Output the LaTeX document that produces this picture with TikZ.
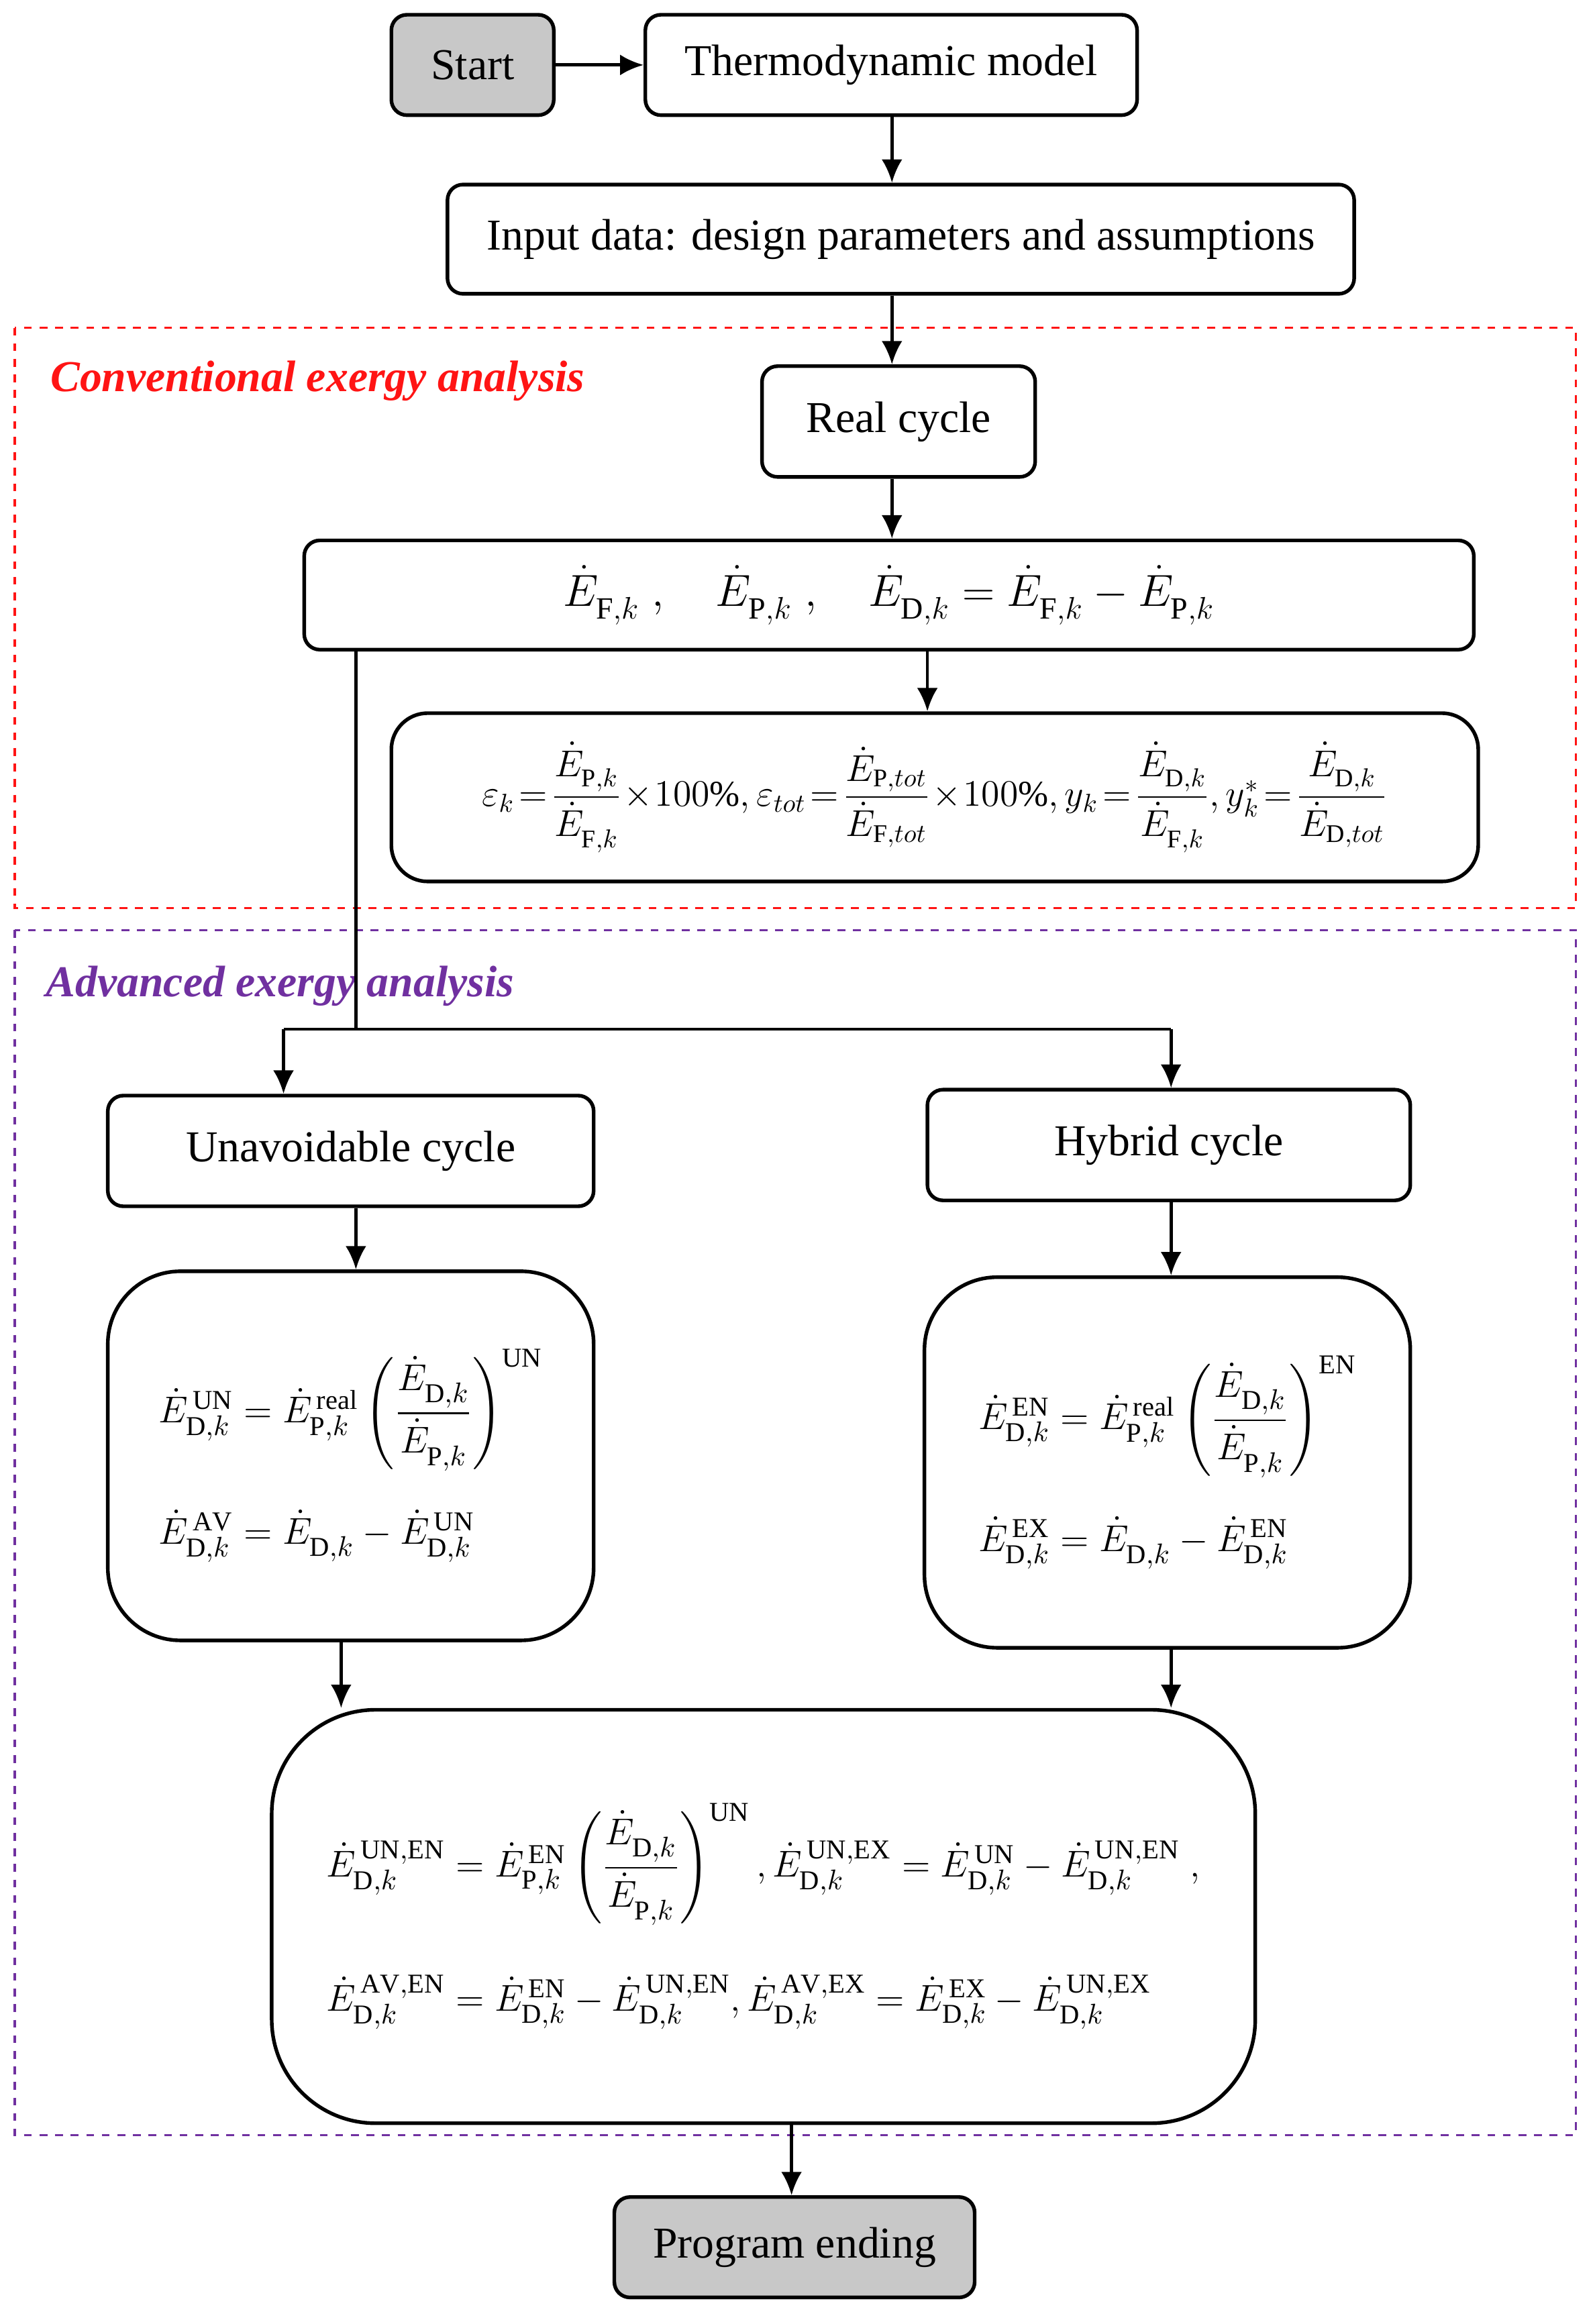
\documentclass[tikz,border=0pt]{standalone}
\usepackage{amsmath}
\usepackage{fontspec}
\setmainfont{Liberation Serif}
\usetikzlibrary{arrows.meta,positioning}
\definecolor{convred}{RGB}{255,20,20}
\definecolor{advpurple}{RGB}{112,48,160}
\definecolor{boxgray}{RGB}{200,200,200}
\newcommand{\Ex}[2]{\dot{E}_{\mathrm{#1},k}^{\,\mathrm{#2}}}
\newcommand{\Et}[1]{\dot{E}_{\mathrm{#1},tot}}
\tikzset{
  stage/.style={draw, line width=1.4pt, rounded corners=6pt, font=\fontsize{17}{20}\selectfont},
  formula/.style={draw, line width=1.4pt, rounded corners=28pt, font=\fontsize{15}{18}\selectfont, align=left},
  term/.style={stage, fill=boxgray},
  flow/.style={line width=1.2pt, -{Latex[length=9pt,width=8pt]}},
  region/.style={dashed, line width=0.8pt},
}
\begin{document}
\begin{tikzpicture}[x=0.02cm, y=-0.02cm]
  \useasboundingbox (0,0) rectangle (1080,1574);
  % analysis regions
  \draw[region, convred] (10,222) rectangle (1067,615);
  \draw[region, advpurple] (10,630) rectangle (1067,1446);
  \node[anchor=west, text=convred, font=\fontsize{17}{20}\selectfont\bfseries\itshape] (conv) at (28,258) {Conventional exergy analysis};
  \node[anchor=west, text=advpurple, font=\fontsize{17}{20}\selectfont\bfseries\itshape] (adv) at (25,668) {Advanced exergy analysis};

  % stages
  \node[term, minimum width=110*0.02cm, minimum height=68*0.02cm] (start) at (320,44) {Start};
  \node[stage, minimum width=333*0.02cm, minimum height=68*0.02cm] (model) at (603.5,44) {Thermodynamic model};
  \node[stage, minimum width=614*0.02cm, minimum height=74*0.02cm] (input) at (610,162) {Input data: design parameters and assumptions};
  \node[stage, minimum width=185*0.02cm, minimum height=75*0.02cm] (real) at (608.5,285.5) {Real cycle};
  \node[stage, minimum width=792*0.02cm, minimum height=74*0.02cm] (rates) at (602,403)
    {$\Ex{F}{}\;,\quad \Ex{P}{}\;,\quad \Ex{D}{}=\Ex{F}{}-\Ex{P}{}$};
  \node[stage, rounded corners=14pt, inner sep=2pt, minimum width=736*0.02cm, minimum height=114*0.02cm, font=\fontsize{14}{17}\selectfont] (eff) at (633,540)
    {\medmuskip=1mu\thickmuskip=2mu$\varepsilon_k=\dfrac{\Ex{P}{}}{\Ex{F}{}}\times100\%,\varepsilon_{tot}=\dfrac{\Et{P}}{\Et{F}}\times100\%,y_k=\dfrac{\Ex{D}{}}{\Ex{F}{}},y_k^*=\dfrac{\Ex{D}{}}{\Et{D}}$};
  \node[stage, minimum width=329*0.02cm, minimum height=75*0.02cm] (unav) at (237.5,779.5) {Unavoidable cycle};
  \node[stage, minimum width=327*0.02cm, minimum height=75*0.02cm] (hyb) at (791.5,775.5) {Hybrid cycle};
  \node[formula, minimum width=329*0.02cm, minimum height=250*0.02cm] (unbox) at (237.5,986)
    {$\Ex{D}{UN}=\Ex{P}{real}\left(\dfrac{\Ex{D}{}}{\Ex{P}{}}\right)^{\mathrm{UN}}$\\[14pt]
     $\Ex{D}{AV}=\Ex{D}{}-\Ex{D}{UN}$};
  \node[formula, minimum width=329*0.02cm, minimum height=251*0.02cm] (enbox) at (790.5,990.5)
    {$\Ex{D}{EN}=\Ex{P}{real}\left(\dfrac{\Ex{D}{}}{\Ex{P}{}}\right)^{\mathrm{EN}}$\\[14pt]
     $\Ex{D}{EX}=\Ex{D}{}-\Ex{D}{EN}$};
  \node[formula, rounded corners=40pt, minimum width=666*0.02cm, minimum height=280*0.02cm] (split) at (517,1298)
    {$\Ex{D}{UN,EN}=\Ex{P}{EN}\left(\dfrac{\Ex{D}{}}{\Ex{P}{}}\right)^{\mathrm{UN}},\Ex{D}{UN,EX}=\Ex{D}{UN}-\Ex{D}{UN,EN}\;,$\\[18pt]
     $\Ex{D}{AV,EN}=\Ex{D}{EN}-\Ex{D}{UN,EN},\Ex{D}{AV,EX}=\Ex{D}{EX}-\Ex{D}{UN,EX}$};
  \node[term, minimum width=244*0.02cm, minimum height=68*0.02cm] (end) at (538,1522) {Program ending};

  % connectors
  \coordinate (tap) at (241,697);
  \coordinate (left) at (192,697);
  \coordinate (right) at (793,697);
  \coordinate (topx) at (604,0);
  \coordinate (effx) at (628,0);
  \coordinate (unx) at (241,0);
  \coordinate (unout) at (231,0);
  \coordinate (enx) at (793,0);
  \coordinate (endx) at (536,0);
  \draw[flow] (start) -- (model);
  \draw[flow] (model.south -| topx) -- (input.north -| topx);
  \draw[flow] (input.south -| topx) -- (real.north -| topx);
  \draw[flow] (real.south -| topx) -- (rates.north -| topx);
  \draw[flow] (rates.south -| effx) -- (eff.north -| effx);
  \draw[line width=1.2pt] (rates.south -| tap) -- (tap);
  \draw[line width=1.2pt] (left) -- (right);
  \draw[flow] (left) -- (unav.north -| left);
  \draw[flow] (right) -- (hyb.north -| right);
  \draw[flow] (unav.south -| unx) -- (unbox.north -| unx);
  \draw[flow] (hyb.south -| enx) -- (enbox.north -| enx);
  \draw[flow] (unbox.south -| unout) -- (split.north -| unout);
  \draw[flow] (enbox.south -| enx) -- (split.north -| enx);
  \draw[flow] (split.south -| endx) -- (end.north -| endx);
\end{tikzpicture}
\end{document}
